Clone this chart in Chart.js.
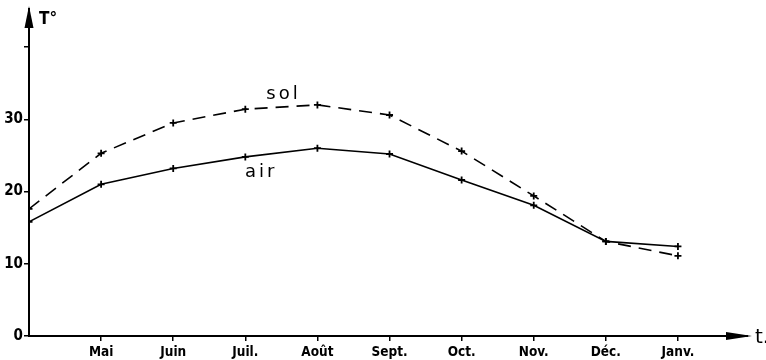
<!DOCTYPE html>
<html>
<head>
<meta charset="utf-8">
<script src="https://cdn.jsdelivr.net/npm/chart.js@4/dist/chart.umd.min.js"></script>
<style>
  html, body { margin: 0; padding: 0; background: #fff; }
  #wrap { width: 766px; height: 360px; }
</style>
</head>
<body>
<div id="wrap"><canvas id="myChart" width="766" height="360"></canvas></div>
<script>
// month labels (index 0 = April, the start of the curves, unlabelled)
const months = ['', 'Mai', 'Juin', 'Juil.', 'Août', 'Sept.', 'Oct.', 'Nov.', 'Déc.', 'Janv.'];
// temperatures
const airTemps = [15.8, 21.0, 23.2, 24.8, 26.0, 25.2, 21.6, 18.1, 13.1, 12.4];
const solTemps = [17.6, 25.3, 29.5, 31.4, 32.0, 30.6, 25.6, 19.4, 13.1, 11.1];
const yTicks = [0, 10, 20, 30, 40];
const yLabels = ['0', '10', '20', '30', ''];

function toPoints(values) {
  return values.map((v, i) => ({ x: i, y: v }));
}

// draws the arrow heads, axis titles and the curve names
const sketchPlugin = {
  id: 'sketch',
  afterDraw(chart) {
    const ctx = chart.ctx;
    const area = chart.chartArea;
    const xs = chart.scales.x;
    const ys = chart.scales.y;
    ctx.save();
    ctx.fillStyle = '#000';
    ctx.strokeStyle = '#000';
    ctx.lineWidth = 2;

    // y axis stem up to the arrow
    ctx.beginPath();
    ctx.moveTo(area.left, area.top);
    ctx.lineTo(area.left, 8);
    ctx.stroke();
    ctx.beginPath();
    ctx.moveTo(area.left, 6);
    ctx.lineTo(area.left - 4.5, 28);
    ctx.lineTo(area.left + 4.5, 28);
    ctx.closePath();
    ctx.fill();

    // x axis arrow
    ctx.beginPath();
    ctx.moveTo(area.right, area.bottom);
    ctx.lineTo(748, area.bottom);
    ctx.stroke();
    ctx.beginPath();
    ctx.moveTo(752, area.bottom);
    ctx.lineTo(726, area.bottom - 4);
    ctx.lineTo(726, area.bottom + 4);
    ctx.closePath();
    ctx.fill();

    // axis titles
    ctx.textBaseline = 'alphabetic';
    ctx.textAlign = 'left';
    ctx.font = 'bold 17px "DejaVu Sans Condensed", "DejaVu Sans", sans-serif';
    ctx.fillText('T°', 39, 24);
    ctx.font = '20px "DejaVu Sans", sans-serif';
    ctx.fillText('t.', 755, area.bottom + 7);

    // curve names
    ctx.textAlign = 'center';
    ctx.font = '18px "DejaVu Sans", sans-serif';
    if (ctx.letterSpacing !== undefined) ctx.letterSpacing = '3px';
    ctx.fillText('sol', xs.getPixelForValue(3.53), ys.getPixelForValue(32.8));
    ctx.fillText('air', xs.getPixelForValue(3.22), ys.getPixelForValue(22.0));
    ctx.restore();
  }
};

const ctx = document.getElementById('myChart').getContext('2d');

new Chart(ctx, {
  type: 'line',
  data: {
    datasets: [
      {
        label: 'sol',
        data: toPoints(solTemps),
        borderColor: '#000',
        borderWidth: 1.6,
        borderDash: [13, 8],
        pointStyle: 'cross',
        pointRadius: 3.5,
        pointBorderWidth: 1.8,
        pointBorderColor: '#000',
        tension: 0
      },
      {
        label: 'air',
        data: toPoints(airTemps),
        borderColor: '#000',
        borderWidth: 1.6,
        pointStyle: 'cross',
        pointRadius: 3.5,
        pointBorderWidth: 1.8,
        pointBorderColor: '#000',
        tension: 0
      }
    ]
  },
  options: {
    responsive: false,
    animation: false,
    layout: { padding: { top: 11, right: 21, left: 0, bottom: 0 } },
    plugins: {
      legend: { display: false },
      tooltip: { enabled: false }
    },
    scales: {
      x: {
        type: 'linear',
        min: 0,
        max: 9.93,
        afterBuildTicks: (scale) => {
          scale.ticks = months.map((m, i) => ({ value: i })).filter(t => t.value > 0);
        },
        afterFit: (scale) => { scale.height = 24; },
        ticks: {
          autoSkip: false,
          maxRotation: 0,
          padding: 3,
          color: '#000',
          font: { family: '"DejaVu Sans Condensed", "DejaVu Sans", sans-serif', size: 13.5, weight: 'bold' },
          callback: (v) => months[Math.round(v)]
        },
        grid: { drawOnChartArea: false, drawTicks: true, tickLength: 5, color: '#000', lineWidth: 1.5 },
        border: { display: true, color: '#000', width: 2 }
      },
      y: {
        min: 0,
        max: 45,
        afterBuildTicks: (scale) => {
          scale.ticks = yTicks.map(v => ({ value: v }));
        },
        afterFit: (scale) => { scale.width = 29; },
        ticks: {
          padding: 1,
          color: '#000',
          font: { family: '"DejaVu Sans Condensed", "DejaVu Sans", sans-serif', size: 15, weight: 'bold' },
          callback: (v) => yLabels[yTicks.indexOf(v)]
        },
        grid: { drawOnChartArea: false, drawTicks: true, tickLength: 5, color: '#000', lineWidth: 1.5 },
        border: { display: true, color: '#000', width: 2 }
      }
    }
  },
  plugins: [sketchPlugin]
});
</script>
</body>
</html>
